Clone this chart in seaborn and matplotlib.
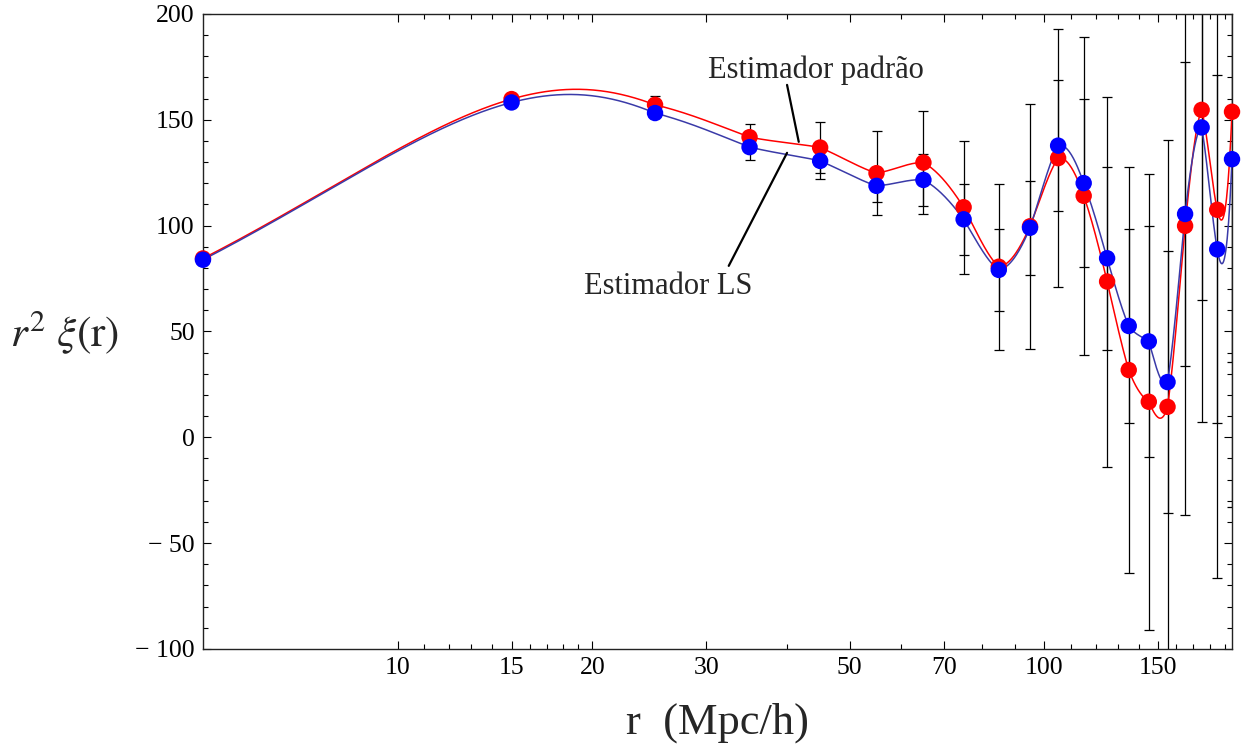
import numpy as np
import pandas as pd
import matplotlib
matplotlib.use("Agg")
import matplotlib.pyplot as plt
import matplotlib.ticker as mticker
import seaborn as sns

# ---------------- data ----------------
r = [5, 15, 25, 35, 45, 55, 65, 75, 85, 95, 105, 115, 125, 135, 145, 155, 165, 175, 185, 195]
xi_padrao = [84.5, 159.8, 157.1, 141.8, 136.9, 124.8, 129.8, 108.7, 80.6, 99.7, 131.9, 114.1,
             73.6, 31.8, 16.8, 14.4, 99.9, 154.7, 107.5, 153.8]
xi_ls = [83.9, 158.2, 153.2, 137.1, 130.6, 118.8, 121.6, 103.0, 79.1, 99.0, 137.8, 120.1,
         84.6, 52.6, 45.3, 26.1, 105.5, 146.4, 88.8, 131.4]
err_padrao = [1, 2, 4, 6, 12, 19.7, 24.5, 31.5, 39.2, 58, 61, 75.2, 87.4, 95.7, 107.8, 126.1,
              136.8, 147.5, 174.2, 186.5]
err_ls = [0.5, 1, 2, 6.3, 8.5, 7.5, 12.2, 16.9, 19.3, 22.3, 31, 39.8, 43.2, 45.8, 54.4, 61.8,
          71.8, 81.4, 82.2, 95.6]

xticks_major = [10, 15, 20, 30, 50, 70, 100, 150]
xticks_minor = [11, 12, 13, 14, 16, 17, 18, 19, 40, 60, 80, 90, 110, 120, 130, 140, 160, 170, 180, 190]
yticks_major = [-100, -50, 0, 50, 100, 150, 200]
ytick_labels = ["\u2212 100", "\u2212 50", "0", "50", "100", "150", "200"]


def local_cubic(x, y, xs):
    """Piecewise cubic: on each interval, the cubic through the 4 nearest samples."""
    x = np.asarray(x, float)
    y = np.asarray(y, float)
    n = len(x)
    out = np.empty_like(xs)
    idx = np.clip(np.searchsorted(x, xs) - 1, 0, n - 2)
    for k, (t, i) in enumerate(zip(xs, idx)):
        s = int(np.clip(i - 1, 0, n - 4))
        xx = x[s:s + 4]
        yy = y[s:s + 4]
        val = 0.0
        for j in range(4):
            w = 1.0
            for m in range(4):
                if m != j:
                    w *= (t - xx[m]) / (xx[j] - xx[m])
            val += w * yy[j]
        out[k] = val
    return out


sns.set_theme(style="ticks")
plt.rcParams["font.family"] = ["Liberation Serif", "DejaVu Serif"]
plt.rcParams["mathtext.fontset"] = "stix"

fig = plt.figure(figsize=(12.49, 7.52), dpi=100)
ax = fig.add_axes([0.1625, 0.137, 0.8239, 0.8444])

rs = np.geomspace(min(r), max(r), 1500)
curve_p = pd.DataFrame({"r": rs, "v": local_cubic(r, xi_padrao, rs)})
curve_l = pd.DataFrame({"r": rs, "v": local_cubic(r, xi_ls, rs)})

# error bars
ax.errorbar(r, xi_padrao, yerr=err_padrao, fmt="none", ecolor="black", elinewidth=0.9,
            capsize=3.5, capthick=0.9, zorder=2)
ax.errorbar(r, xi_ls, yerr=err_ls, fmt="none", ecolor="black", elinewidth=0.9,
            capsize=3.5, capthick=0.9, zorder=2)

sns.lineplot(data=curve_p, x="r", y="v", color="#ff0000", lw=1.1,
             sort=False, estimator=None, ax=ax, zorder=3)
sns.lineplot(data=curve_l, x="r", y="v", color="#3a3aa8", lw=1.1,
             sort=False, estimator=None, ax=ax, zorder=3)

pts = pd.DataFrame({"r": r, "padrao": xi_padrao, "ls": xi_ls})
sns.scatterplot(data=pts, x="r", y="padrao", color="#ff0000", s=140, edgecolor="none",
                ax=ax, zorder=4, clip_on=False)
sns.scatterplot(data=pts, x="r", y="ls", color="#0000ff", s=140, edgecolor="none",
                ax=ax, zorder=5, clip_on=False)

ax.set_xscale("log")
ax.set_xlim(5, 195)
ax.set_ylim(-100, 200)
ax.xaxis.set_major_locator(mticker.FixedLocator(xticks_major))
ax.xaxis.set_major_formatter(mticker.FixedFormatter([str(v) for v in xticks_major]))
ax.xaxis.set_minor_locator(mticker.FixedLocator(xticks_minor))
ax.xaxis.set_minor_formatter(mticker.NullFormatter())
ax.yaxis.set_major_locator(mticker.FixedLocator(yticks_major))
ax.yaxis.set_major_formatter(mticker.FixedFormatter(ytick_labels))
ax.yaxis.set_minor_locator(mticker.MultipleLocator(10))

ax.tick_params(which="both", direction="in", top=True, right=True, colors="black",
               labelsize=18.5, width=0.8)
ax.tick_params(which="major", length=6, pad=6)
ax.tick_params(which="minor", length=3.5)
for sp in ax.spines.values():
    sp.set_color("#222222")
    sp.set_linewidth(1.0)

ax.set_xlabel("")
ax.set_ylabel("")

fig.text(718 / 1249, 1 - 723 / 752, "r  (Mpc/h)", fontsize=32, ha="center", va="center")
fig.text(65 / 1249, 1 - 332 / 752, r"$r^2\ \xi(\mathrm{r})$", fontsize=31, ha="center",
         va="center")

# annotations
ax.text(44.4, 173.6, "Estimador padrão", fontsize=22, ha="center", va="center")
ax.plot([40.0, 41.7], [166.5, 139.6], color="black", lw=1.6, zorder=6)
ax.text(26.2, 71.1, "Estimador LS", fontsize=22, ha="center", va="center")
ax.plot([32.5, 40.0], [81.0, 134.4], color="black", lw=1.6, zorder=6)

fig.savefig("out.png", dpi=100, facecolor="white")
